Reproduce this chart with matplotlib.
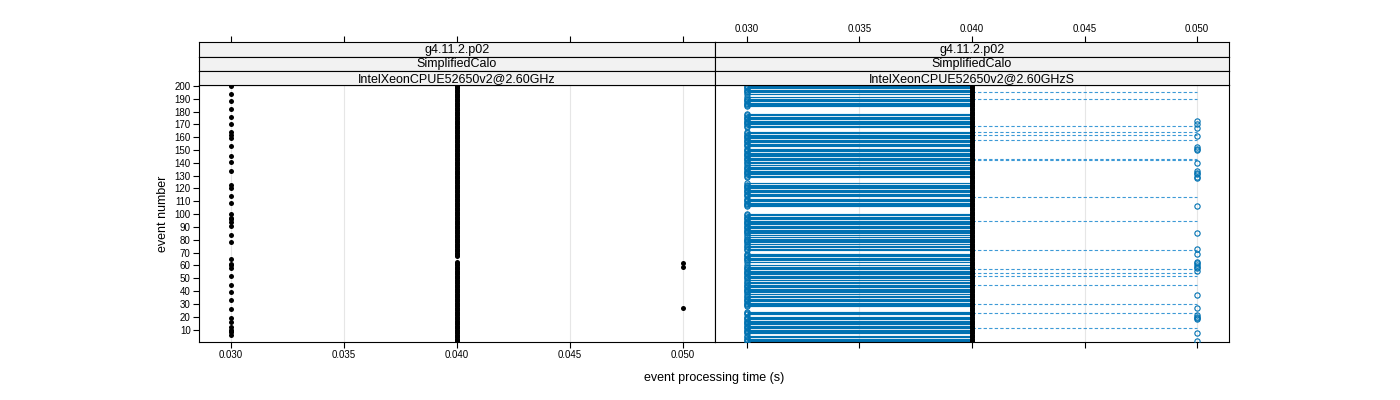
import numpy as np
import matplotlib.pyplot as plt

plt.rcParams['font.family'] = ['Liberation Sans', 'DejaVu Sans']

# event numbers (y categories)
events = list(range(1, 201))
time_ticks = [0.030, 0.035, 0.040, 0.045, 0.050]
event_ticks = list(range(10, 201, 10))
strip_labels = [
    ["g4.11.2.p02", "SimplifiedCalo", "IntelXeonCPUE52650v2@2.60GHz"],
    ["g4.11.2.p02", "SimplifiedCalo", "IntelXeonCPUE52650v2@2.60GHzS"],
]

# left panel: events seen at 0.030 s, 0.040 s and 0.050 s
left_fast = [200, 194, 188, 182, 176, 170, 164, 162, 159, 153, 145, 141, 134,
             123, 120, 114, 109, 100, 97, 96, 94, 91, 84, 78, 65, 61, 60, 58,
             52, 45, 39, 33, 26, 19, 16, 12, 10, 9, 8, 6]
left_mid_missing = [64, 65, 66]
left_slow = [62, 59, 27]

# right panel
right_gap = [193, 192, 183, 182, 181, 180, 179, 167, 166, 165, 152, 139, 128,
             127, 126, 125, 113, 105, 104, 103, 102, 101, 83, 76, 71, 70, 62,
             61, 48, 37, 27, 26, 25, 21, 6]
right_dashed = [195, 190, 169, 164, 162, 158, 143, 142, 113, 95, 72, 57, 54,
                52, 45, 30, 23, 11]
right_slow = [173, 170, 167, 161, 152, 151, 150, 140, 134, 132, 131, 129, 128,
              106, 85, 73, 69, 63, 62, 60, 59, 58, 56, 37, 27, 21, 20, 19, 18,
              7, 1]

t_fast, t_mid, t_slow = 0.030, 0.040, 0.050

left_mid = [e for e in events if e not in left_mid_missing]
right_fast = [e for e in events if e not in right_gap]

blue = '#0072B2'
blue_dash = '#3d9ad6'

fig = plt.figure(figsize=(14, 4), dpi=100)
W, H = 1400.0, 400.0
x0, xm, x1 = 199 / W, 715 / W, 1229 / W
pb, pt = 1 - 342 / H, 1 - 85 / H
sh = 14.2 / H

xlim = (0.02858, 0.05142)
ylim = (0.3, 200.7)
fmt = lambda v: "%.3f" % v

axes = []
for i, (l, r) in enumerate([(x0, xm), (xm, x1)]):
    ax = fig.add_axes([l, pb, r - l, pt - pb])
    ax.set_xlim(*xlim)
    ax.set_ylim(*ylim)
    for xv in time_ticks:
        ax.axvline(xv, color='#e6e6e6', lw=0.8, zorder=0)
    ax.set_xticks(time_ticks)
    ax.set_xticklabels([fmt(v) for v in time_ticks])
    ax.tick_params(axis='both', labelsize=7, length=4, width=0.8, direction='out', pad=2)
    for s in ax.spines.values():
        s.set_linewidth(0.8)
    axes.append(ax)
    # strips
    for k in range(3):
        sb = pt + (2 - k) * sh
        sax = fig.add_axes([l, sb, r - l, sh])
        sax.set_xlim(*xlim)
        sax.set_yticks([])
        sax.set_facecolor('#f2f2f2')
        for s in sax.spines.values():
            s.set_linewidth(0.8)
        sax.text(0.5, 0.45, strip_labels[i][k], ha='center', va='center', fontsize=9,
                 transform=sax.transAxes)
        if k == 0:
            sax.set_xticks(time_ticks)
            sax.set_xticklabels([fmt(v) for v in time_ticks])
            sax.tick_params(axis='x', bottom=False, labelbottom=False, top=True,
                            labeltop=(i == 1), labelsize=7, length=4, width=0.8, pad=2)
        else:
            sax.set_xticks([])

axl, axr = axes

# left panel
axl.plot([t_mid] * len(left_mid), left_mid, 'o', color='black', ms=3.6, mew=0, zorder=3)
axl.plot([t_fast] * len(left_fast), left_fast, 'o', color='black', ms=3.6, mew=0, zorder=3)
axl.plot([t_slow] * len(left_slow), left_slow, 'o', color='black', ms=3.6, mew=0, zorder=3)
axl.set_yticks(event_ticks)
axl.set_ylabel("event number", fontsize=9, labelpad=4)

# right panel
axr.hlines(right_fast, t_fast, t_mid, color=blue, lw=0.85, zorder=2)
axr.hlines(right_dashed, t_mid, t_slow, color=blue_dash, lw=0.8, linestyles=(0, (3, 2)), zorder=2)
axr.plot([t_fast] * len(right_fast), right_fast, 'o', mfc='none', mec=blue, ms=3.8, mew=0.8, zorder=3)
axr.plot([t_slow] * len(right_slow), right_slow, 'o', mfc='none', mec=blue, ms=3.8, mew=0.8, zorder=3)
axr.plot([t_mid] * len(events), events, 'o', color='black', ms=3.6, mew=0, zorder=4)
axr.set_yticks([])
axr.tick_params(axis='x', labelbottom=False)

fig.text((x0 + x1) / 2, 1 - 378 / H, "event processing time (s)", ha='center', va='center', fontsize=9)

fig.savefig("out.png", dpi=100)
